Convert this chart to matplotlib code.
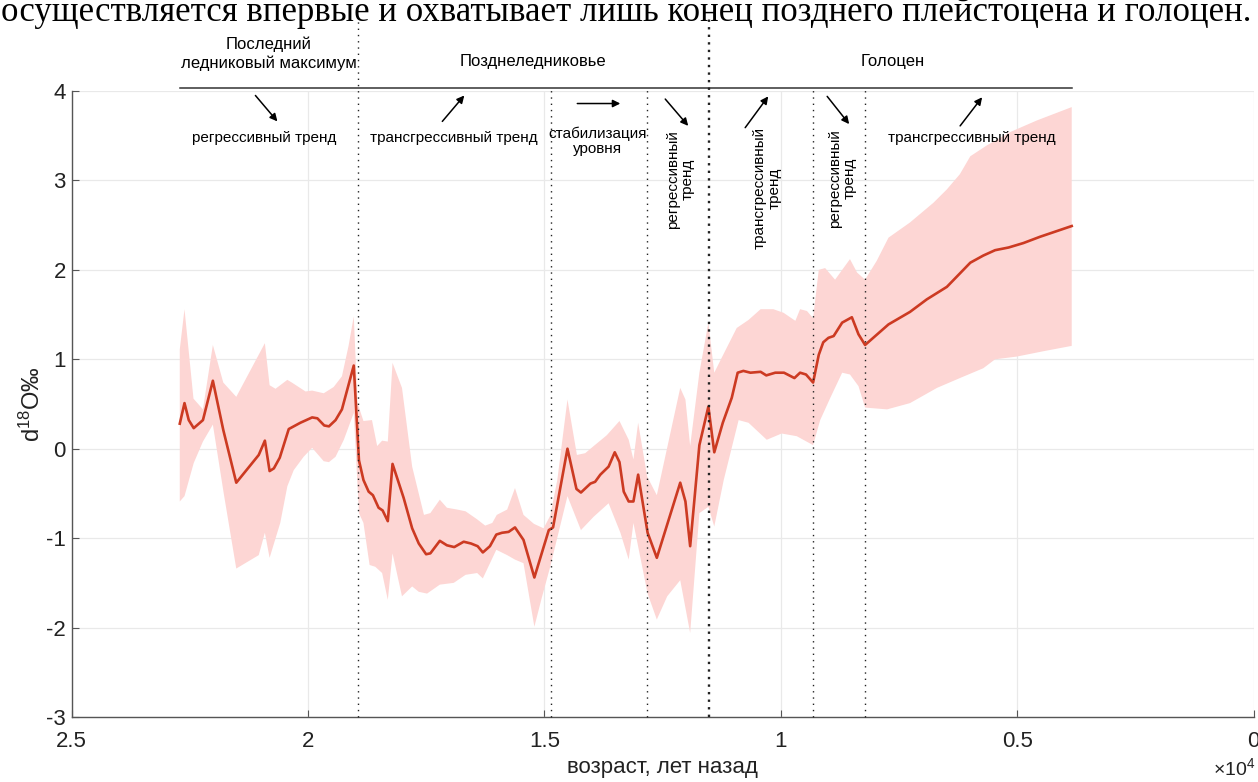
import numpy as np
import matplotlib
matplotlib.use('Agg')
from matplotlib import pyplot as plt

plt.rcParams['font.family'] = ['Liberation Sans', 'DejaVu Sans']
plt.rcParams['mathtext.fontset'] = 'custom'
plt.rcParams['mathtext.rm'] = 'Liberation Sans'
plt.rcParams['mathtext.it'] = 'Liberation Sans'

# средняя кривая d18O (возраст, лет назад)
age = [22710, 22610, 22520, 22415, 22220, 22010, 21790, 21515, 21040, 20910,
       20810, 20720, 20595, 20405, 20160, 19910, 19800, 19655, 19555, 19415,
       19280, 19030, 18920, 18825, 18715, 18625, 18505, 18420, 18310, 18210,
       17975, 17795, 17655, 17500, 17410, 17210, 17060, 16905, 16705, 16550,
       16410, 16300, 16150, 16015, 15895, 15755, 15620, 15440, 15210, 15055,
       14905, 14815, 14510, 14320, 14225, 14025, 13925, 13815, 13640, 13510,
       13410, 13320, 13215, 13115, 13015, 12815, 12620, 12125, 12015, 11915,
       11720, 11530, 11405, 11225, 11035, 10910, 10790, 10640, 10425, 10305,
       10115, 9930, 9710, 9590, 9465, 9315, 9195, 9100, 8990, 8880,
       8700, 8495, 8355, 8215, 8000, 7720, 7265, 6910, 6485, 5990,
       5715, 5465, 5180, 4865, 4515, 3845]
d18o = [0.28, 0.51, 0.32, 0.23, 0.32, 0.76, 0.21, -0.38, -0.07, 0.09,
        -0.25, -0.22, -0.10, 0.22, 0.29, 0.35, 0.34, 0.26, 0.25, 0.32,
        0.44, 0.93, -0.13, -0.35, -0.48, -0.52, -0.66, -0.69, -0.81, -0.17,
        -0.55, -0.89, -1.06, -1.18, -1.17, -1.03, -1.08, -1.10, -1.04, -1.06,
        -1.09, -1.16, -1.09, -0.96, -0.94, -0.93, -0.88, -1.02, -1.44, -1.17,
        -0.91, -0.88, 0.00, -0.45, -0.49, -0.39, -0.37, -0.29, -0.20, -0.04,
        -0.15, -0.48, -0.59, -0.59, -0.29, -0.94, -1.22, -0.38, -0.59, -1.09,
        0.04, 0.47, -0.04, 0.29, 0.57, 0.85, 0.87, 0.85, 0.86, 0.82,
        0.85, 0.85, 0.79, 0.85, 0.83, 0.74, 1.05, 1.19, 1.24, 1.26,
        1.41, 1.47, 1.28, 1.16, 1.26, 1.39, 1.53, 1.67, 1.81, 2.08,
        2.16, 2.22, 2.25, 2.30, 2.37, 2.49]

# верхняя граница доверительного интервала
up_age = [22710, 22610, 22420, 22220, 22010, 21790, 21515, 20910, 20810, 20685,
          20435, 20340, 20050, 19910, 19665, 19455, 19280, 19140, 19030, 18950,
          18825, 18645, 18535, 18430, 18310, 18210, 18010, 17795, 17545, 17410,
          17210, 17060, 16845, 16665, 16420, 16250, 16100, 16005, 15785, 15620,
          15440, 15220, 15015, 14875, 14725, 14510, 14310, 14135, 13955, 13680,
          13410, 13215, 13115, 13015, 12825, 12620, 12125, 12015, 11915, 11720,
          11530, 11405, 11245, 10930, 10680, 10425, 10155, 9940, 9690, 9590,
          9445, 9315, 9195, 9060, 8850, 8535, 8385, 8215, 7970, 7720,
          7265, 6770, 6485, 6210, 5990, 5645, 5150, 4585, 3845]
up_val = [1.11, 1.56, 0.56, 0.44, 1.16, 0.74, 0.58, 1.18, 0.71, 0.67,
          0.77, 0.74, 0.64, 0.65, 0.62, 0.69, 0.81, 1.15, 1.48, 0.51,
          0.31, 0.32, 0.03, 0.09, 0.08, 0.96, 0.68, -0.20, -0.74, -0.72,
          -0.57, -0.66, -0.68, -0.70, -0.79, -0.86, -0.83, -0.74, -0.68, -0.44,
          -0.74, -0.84, -0.89, -0.75, -0.35, 0.55, -0.07, -0.05, 0.03, 0.15,
          0.31, 0.10, -0.12, 0.29, -0.31, -0.52, 0.68, 0.55, 0.03, 0.85,
          1.41, 0.85, 1.02, 1.35, 1.44, 1.56, 1.56, 1.52, 1.43, 1.56,
          1.54, 1.46, 2.00, 2.02, 1.89, 2.12, 1.97, 1.89, 2.10, 2.36,
          2.53, 2.75, 2.90, 3.07, 3.27, 3.39, 3.54, 3.67, 3.82]

# нижняя граница доверительного интервала
lo_age = [22710, 22610, 22415, 22220, 22010, 21780, 21515, 21040, 20910, 20810,
          20585, 20435, 20300, 20090, 19910, 19665, 19555, 19415, 19240, 19030,
          18920, 18825, 18695, 18575, 18430, 18310, 18210, 18010, 17795, 17655,
          17480, 17210, 16915, 16665, 16420, 16300, 16015, 15785, 15620, 15440,
          15210, 15055, 14875, 14700, 14510, 14225, 13955, 13640, 13390, 13215,
          13115, 12815, 12620, 12400, 12125, 11915, 11720, 11530, 11405, 11205,
          10890, 10680, 10295, 9980, 9660, 9315, 9165, 8950, 8700, 8535,
          8355, 8215, 7750, 7265, 6695, 6210, 5715, 5465, 5010, 4445, 3845]
lo_val = [-0.59, -0.53, -0.16, 0.08, 0.27, -0.50, -1.34, -1.19, -0.94, -1.22,
          -0.83, -0.42, -0.24, -0.09, 0.01, -0.14, -0.15, -0.09, 0.10, 0.40,
          -0.72, -0.83, -1.30, -1.32, -1.39, -1.69, -1.17, -1.65, -1.54, -1.60,
          -1.62, -1.52, -1.50, -1.41, -1.39, -1.45, -1.13, -1.19, -1.24, -1.28,
          -1.99, -1.67, -1.32, -0.94, -0.53, -0.91, -0.76, -0.61, -0.94, -1.24,
          -0.83, -1.62, -1.91, -1.65, -1.47, -2.06, -0.72, -0.65, -0.87, -0.35,
          0.32, 0.29, 0.10, 0.17, 0.14, 0.04, 0.32, 0.57, 0.85, 0.83,
          0.70, 0.46, 0.44, 0.51, 0.68, 0.79, 0.90, 1.00, 1.03, 1.09, 1.15]

# границы этапов (пунктирные линии)
bounds_long = [18930, 11510]
bounds_short = [14860, 12830, 9320, 8210]

xticks = [25000, 20000, 15000, 10000, 5000, 0]
xticklabels = ['2.5', '2', '1.5', '1', '0.5', '0']
yticks = [-3, -2, -1, 0, 1, 2, 3, 4]

fig = plt.figure(figsize=(12.58, 7.82), dpi=100)
ax = fig.add_axes([71.5 / 1258, 65 / 782, 1182 / 1258, 626 / 782])

ax.fill(np.r_[up_age, lo_age[::-1]], np.r_[up_val, lo_val[::-1]],
        color='#fdd6d4', lw=0, zorder=2)
ax.plot(age, d18o, color='#cc3a22', lw=1.9, zorder=3)

for b in bounds_short:
    ax.plot([b, b], [-3, 4.03], color='#222222', lw=1.0,
            ls=(0, (1, 3.5)), zorder=4, clip_on=False)
ax.plot([bounds_long[0]] * 2, [-3, 4.8], color='#222222', lw=1.0,
        ls=(0, (1, 3.5)), zorder=4, clip_on=False)
ax.plot([bounds_long[1]] * 2, [-3, 4.85], color='#222222', lw=1.7,
        ls=(0, (1, 2.2)), zorder=4, clip_on=False)

# линия над графиком и подписи периодов
ax.plot([22700, 3840], [4.03, 4.03], color='#333333', lw=1.1, clip_on=False)
ax.text(20835, 4.42, 'Последний\nледниковый максимум', ha='center', va='center',
        fontsize=12, linespacing=1.25, clip_on=False)
ax.text(15233, 4.33, 'Позднеледниковье', ha='center', va='center', fontsize=12)
ax.text(7622, 4.33, 'Голоцен', ha='center', va='center', fontsize=12)

arr = dict(arrowstyle='-|>', color='black', lw=1.1, mutation_scale=11,
           shrinkA=0, shrinkB=0)
ax.annotate('', xy=(20645, 3.66), xytext=(21110, 3.95), arrowprops=arr)
ax.annotate('', xy=(16692, 3.95), xytext=(17157, 3.66), arrowprops=arr)
ax.annotate('', xy=(13393, 3.86), xytext=(14302, 3.86), arrowprops=arr)
ax.annotate('', xy=(11956, 3.61), xytext=(12442, 3.91), arrowprops=arr)
ax.annotate('', xy=(10264, 3.94), xytext=(10751, 3.59), arrowprops=arr)
ax.annotate('', xy=(8552, 3.63), xytext=(9017, 3.94), arrowprops=arr)
ax.annotate('', xy=(5740, 3.93), xytext=(6205, 3.61), arrowprops=arr)

fs = 11
ax.text(20920, 3.47, 'регрессивный тренд', ha='center', va='center', fontsize=fs)
ax.text(16924, 3.47, 'трансгрессивный тренд', ha='center', va='center', fontsize=fs)
ax.text(13880, 3.44, 'стабилизация\nуровня', ha='center', va='center',
        fontsize=fs, linespacing=1.1)
ax.text(12125, 3.01, 'регрессивный\nтренд', ha='center', va='center',
        rotation=90, fontsize=fs, linespacing=1.1, multialignment='center')
ax.text(10286, 2.91, 'трансгрессивный\nтренд', ha='center', va='center',
        rotation=90, fontsize=fs, linespacing=1.1, multialignment='center')
ax.text(8700, 3.02, 'регрессивный\nтренд', ha='center', va='center',
        rotation=90, fontsize=fs, linespacing=1.1, multialignment='center')
ax.text(5951, 3.47, 'трансгрессивный тренд', ha='center', va='center', fontsize=fs)

ax.set_xlim(25000, 0)
ax.set_ylim(-3, 4)
ax.set_xticks(xticks)
ax.set_xticklabels(xticklabels)
ax.set_yticks(yticks)
ax.set_yticklabels([str(v) for v in yticks])
ax.tick_params(axis='both', direction='in', length=5, color='#555555',
               labelsize=16, labelcolor='#222222')
ax.tick_params(axis='x', pad=10)
ax.tick_params(axis='y', pad=4)
ax.grid(True, color='#e9e9e9', lw=0.9, zorder=0)
ax.set_axisbelow(True)
for s in ['top', 'right']:
    ax.spines[s].set_visible(False)
for s in ['left', 'bottom']:
    ax.spines[s].set_color('#555555')
    ax.spines[s].set_linewidth(1.0)

ax.set_xlabel('возраст, лет назад', fontsize=16, labelpad=4, color='#222222')
ax.set_ylabel('d$^{18}$O‰', fontsize=17, color='#222222')
ax.yaxis.set_label_coords(-0.0225, 0.5)
fig.text(0.998, 0.004, '×10$^{4}$', ha='right', va='bottom', fontsize=14,
         color='#222222')

# обрезанная строка текста документа сверху
fig.text(0.001, 1 - 21 / 782,
         'осуществляется впервые и охватывает лишь конец позднего плейстоцена и голоцен.',
         family='Liberation Serif', fontsize=25, va='baseline', ha='left')

fig.savefig('out.png', dpi=100)
